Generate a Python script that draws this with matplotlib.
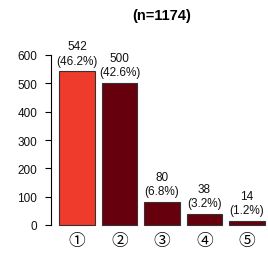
import matplotlib
matplotlib.use("Agg")
import matplotlib.pyplot as plt

categories = ["①", "②", "③", "④", "⑤"]
counts = [542, 500, 80, 38, 14]
percents = [46.2, 42.6, 6.8, 3.2, 1.2]
total_n = 1174
yticks = [0, 100, 200, 300, 400, 500, 600]

plt.rcParams['font.family'] = ['Liberation Sans', 'DejaVu Sans', 'Noto Sans CJK JP']

W, H = 268, 255
fig = plt.figure(figsize=(W / 100, H / 100), dpi=100)
ax = fig.add_axes([51 / W, 22.2 / H, 222 / W, 183.6 / H])

xs = [0.7 + 1.2 * i for i in range(len(counts))]
colors = ["#EF3B2C"] + ["#67000D"] * (len(counts) - 1)
ax.bar(xs, counts, width=1.0, color=colors, edgecolor="#333333", linewidth=0.8)

for x, c, p in zip(xs, counts, percents):
    ax.annotate(f"{c}\n({p}%)", (x, c), xytext=(0, 3.5), textcoords="offset points",
                ha="center", va="bottom", fontsize=8.5, linespacing=1.25, color="#111111")

ax.set_xlim(-0.032, 6.232)
ax.set_ylim(-24, 624)
for s in ["top", "right", "bottom"]:
    ax.spines[s].set_visible(False)
ax.spines["left"].set_bounds(0, 600)
ax.spines["left"].set_linewidth(0.8)
ax.set_yticks(yticks)
ax.set_yticklabels([str(v) for v in yticks], fontsize=8.5, color="#111111")
ax.tick_params(axis="y", length=4, width=0.8, pad=6)
ax.set_xticks(xs)
ax.set_xticklabels(categories, fontsize=12, family=['Noto Sans CJK JP', 'DejaVu Sans'])
ax.tick_params(axis="x", length=0, pad=0)

fig.text(162 / W, 1 - 16 / H, f"(n={total_n})", ha="center", va="center",
         fontsize=10.5, fontweight="bold")

fig.savefig("out.png", dpi=100)
